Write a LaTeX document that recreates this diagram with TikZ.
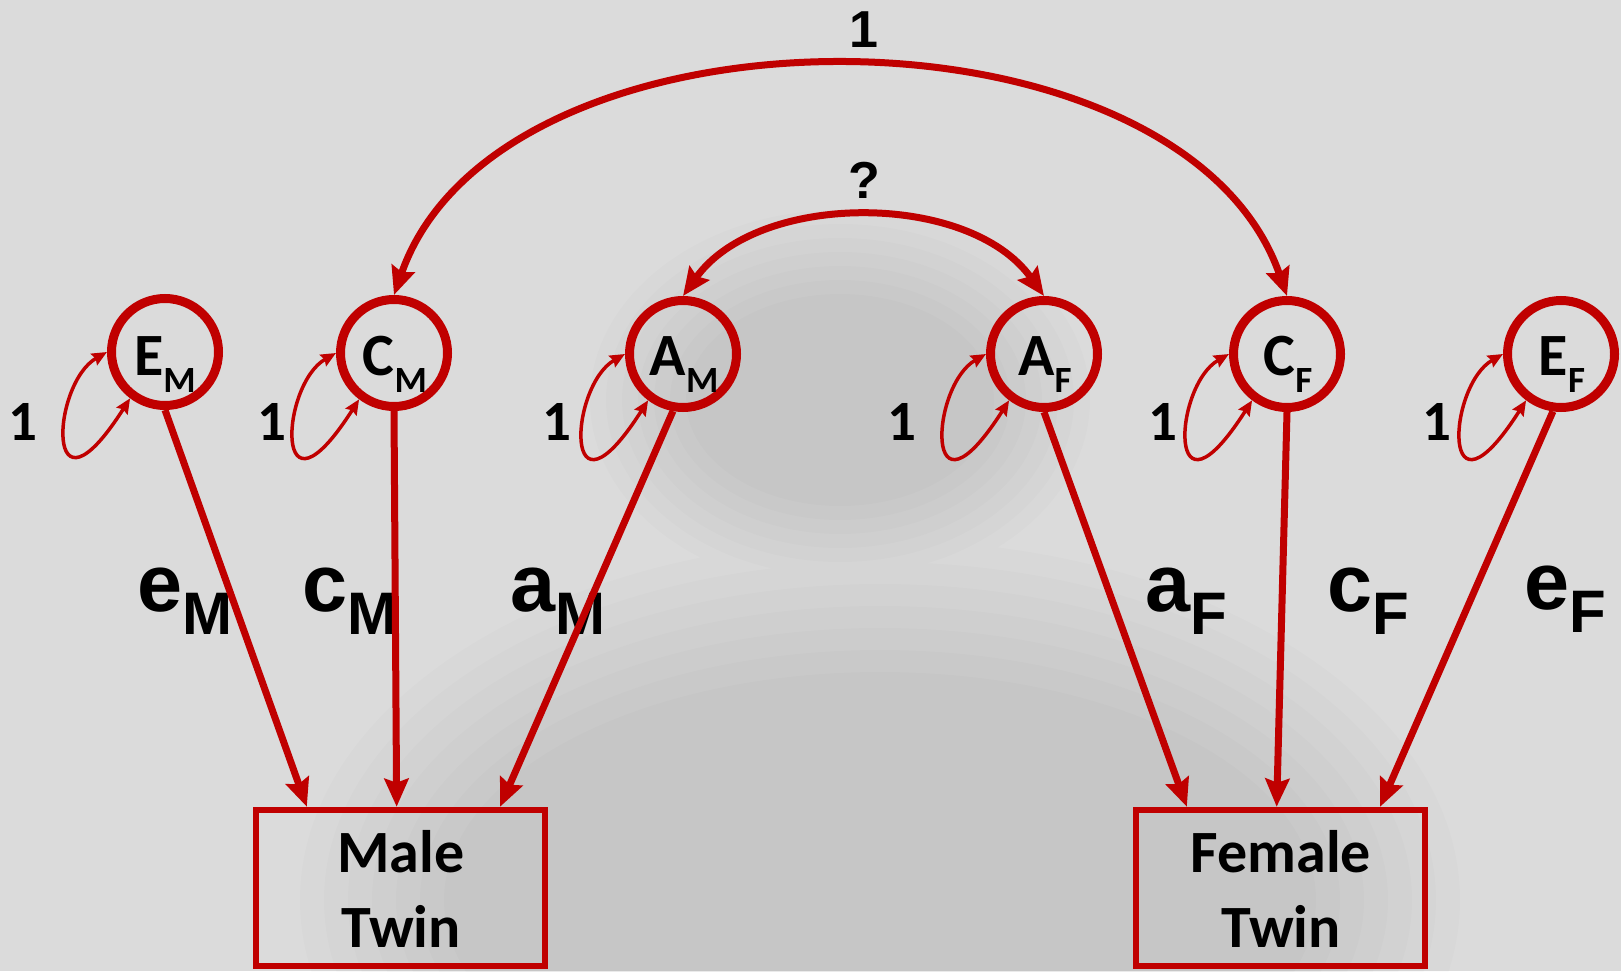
\documentclass[tikz,border=0pt]{standalone}
\usepackage{fontspec}
\setmainfont{Carlito}
\newfontfamily\arialfont{Liberation Sans}
\usetikzlibrary{arrows.meta,calc}
\definecolor{semred}{RGB}{192,0,0}
\definecolor{bggray}{RGB}{219,219,219}
\newcommand\nsub[1]{\raisebox{-17pt}{\fontsize{37}{37}\selectfont #1}}
\newcommand\psub[1]{\raisebox{-23pt}{\fontsize{60}{60}\selectfont #1}}
\tikzset{
  latent/.style={circle, draw=semred, line width=9pt, minimum size=107pt, inner sep=0pt},
  observed/.style={rectangle, draw=semred, line width=6.5pt, minimum width=289pt, minimum height=156pt, inner sep=0pt},
  nodelab/.style={font=\bfseries\fontsize{60}{60}\selectfont, inner sep=0pt, anchor=base},
  boxlab/.style={font=\bfseries\fontsize{60}{60}\selectfont, inner sep=0pt, anchor=base},
  pathlab/.style={font=\arialfont\bfseries\fontsize{81}{81}\selectfont, inner sep=0pt, anchor=base west},
  varlab/.style={font=\bfseries\fontsize{57}{57}\selectfont, inner sep=0pt, anchor=base},
  covlab/.style={font=\arialfont\bfseries\fontsize{52}{52}\selectfont, inner sep=0pt, anchor=base},
  loadarrow/.style={draw=semred, line width=7pt, -{Stealth[length=28pt,width=24pt,inset=4pt]}},
  covarrow/.style={draw=semred, line width=7pt, {Stealth[length=28pt,width=24pt,inset=4pt]}-{Stealth[length=28pt,width=24pt,inset=4pt]}},
  selfloop/.style={draw=semred, line width=3.5pt, {Stealth[length=15pt,width=13pt,inset=2pt]}-{Stealth[length=15pt,width=13pt,inset=2pt]}},
}
\newcommand\varloop[1]{\draw[selfloop] (#1.180) .. controls +(-56,32) and +(-86,135) .. (#1.233);}
\begin{document}
\begin{tikzpicture}[x=1pt,y=-1pt]
\useasboundingbox (0,0) rectangle (1621,971);
\fill[bggray] (0,0) rectangle (1621,971);
% faded darker central area of the background photo
\foreach \k in {0,...,6}{
  \fill[black,opacity=0.011]
    (840,400) ellipse [x radius={250pt-16pt*\k}, y radius={190pt-14pt*\k}]
    (880,900) ellipse [x radius={580pt-24pt*\k}, y radius={360pt-22pt*\k}];
}

% latent variables
\node[latent] (EM) at (165,352) {};
\node[latent] (CM) at (394,353) {};
\node[latent] (AM) at (683,354) {};
\node[latent] (AF) at (1044,354) {};
\node[latent] (CF) at (1287,354) {};
\node[latent] (EF) at (1561,354) {};

\node[nodelab] (tEM) at (165,375) {E\nsub{M}};
\node[nodelab] (tCM) at (395,375) {C\nsub{M}};
\node[nodelab] (tAM) at (684,375) {A\nsub{M}};
\node[nodelab] (tAF) at (1045,375) {A\nsub{F}};
\node[nodelab] (tCF) at (1288,375) {C\nsub{F}};
\node[nodelab] (tEF) at (1562,375) {E\nsub{F}};

% observed variables
\node[observed] (male) at (400.5,888) {};
\node[observed] (female) at (1280.5,888) {};
\node[boxlab] (male1) at (401,872) {Male};
\node[boxlab] (male2) at (401,947) {Twin};
\node[boxlab] (fem1) at (1281,872) {Female};
\node[boxlab] (fem2) at (1281,947) {Twin};

% variance self loops
\varloop{EM}\varloop{CM}\varloop{AM}\varloop{AF}\varloop{CF}\varloop{EF}
\node[varlab] (vEM) at (23,440) {1};
\node[varlab] (vCM) at (272,440) {1};
\node[varlab] (vAM) at (557,440) {1};
\node[varlab] (vAF) at (902,440) {1};
\node[varlab] (vCF) at (1163,440) {1};
\node[varlab] (vEF) at (1437,440) {1};

% path labels
\node[pathlab] (pEM) at (137,611) {e\psub{M}};
\node[pathlab] (pCM) at (302,611) {c\psub{M}};
\node[pathlab] (pAM) at (510,611) {a\psub{M}};
\node[pathlab] (pAF) at (1145,611) {a\psub{F}};
\node[pathlab] (pCF) at (1327,611) {c\psub{F}};
\node[pathlab] (pEF) at (1524,609) {e\psub{F}};

% loadings
\draw[loadarrow] (EM.south) -- ($(male.north west)!0.183!(male.north east)$);
\draw[loadarrow] (CM.south) -- ($(male.north west)!0.487!(male.north east)$);
\draw[loadarrow] (AM.-100) -- ($(male.north west)!0.837!(male.north east)$);
\draw[loadarrow] (AF.south) -- ($(female.north west)!0.183!(female.north east)$);
\draw[loadarrow] (CF.south) -- ($(female.north west)!0.487!(female.north east)$);
\draw[loadarrow] (EF.-98) -- ($(female.north west)!0.837!(female.north east)$);

% covariances
\draw[covarrow] (CM.north) .. controls +(106,-305) and +(-106,-305) .. (CF.north);
\draw[covarrow] (AM.north) .. controls +(75,-105) and +(-75,-105) .. (AF.north);
\node[covlab] (c1) at (864,48) {1};
\node[covlab] (cq) at (864,198) {?};
\end{tikzpicture}
\end{document}
